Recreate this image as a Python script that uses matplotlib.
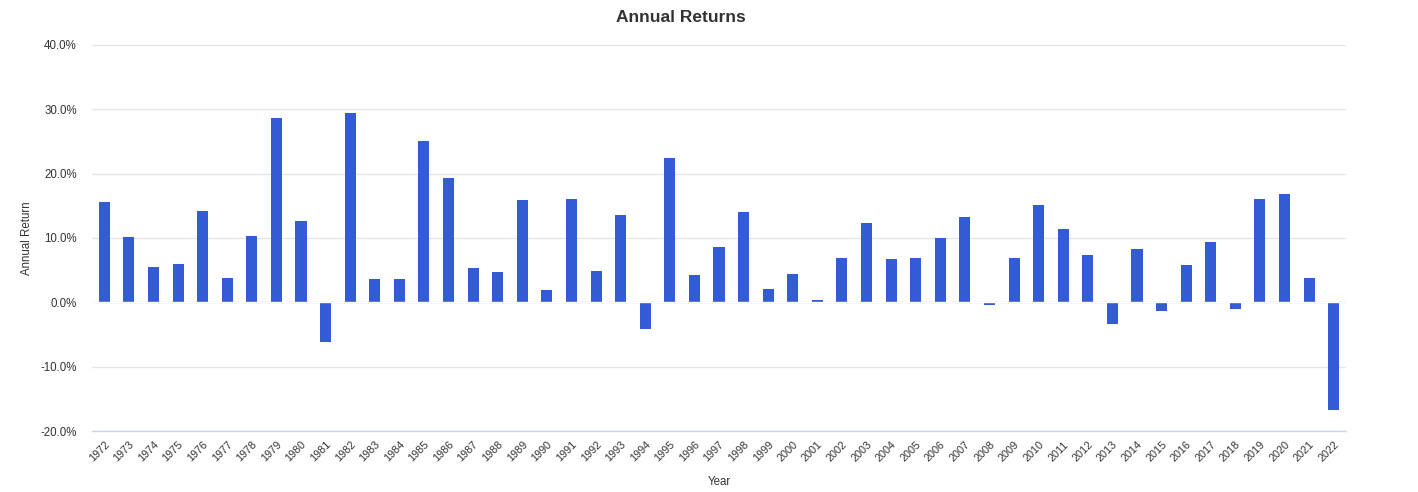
import matplotlib
matplotlib.use("Agg")
import matplotlib.pyplot as plt
from matplotlib.ticker import FuncFormatter

plt.rcParams['font.family'] = ['Liberation Sans', 'DejaVu Sans']

years = [str(y) for y in range(1972, 2023)]
returns = [
    15.6, 10.1, 5.5, 5.9, 14.2, 3.8, 10.3, 28.7, 12.6, -6.1,
    29.4, 3.6, 3.6, 25.0, 19.4, 5.3, 4.7, 15.9, 1.9, 16.0,
    4.9, 13.5, -4.1, 22.4, 4.2, 8.6, 14.0, 2.1, 4.4, 0.4,
    6.9, 12.3, 6.7, 6.9, 10.0, 13.2, -0.4, 6.9, 15.2, 11.4,
    7.3, -3.4, 8.3, -1.3, 5.8, 9.4, -1.0, 16.0, 16.8, 3.8,
    -16.7,
]
y_ticks = [-20, -10, 0, 10, 20, 30, 40]

fig = plt.figure(figsize=(14.18, 4.92), dpi=100)
ax = fig.add_axes([92 / 1418, 1 - 431 / 492, (1346 - 92) / 1418, (431 - 45) / 492])

x = range(len(years))
ax.bar(x, returns, width=0.45, color="#335cd4", zorder=3)
ax.axhline(0, color="white", linewidth=1.0, zorder=4)

ax.set_xlim(-0.5, len(years) - 0.5)
ax.set_ylim(-20, 40)
ax.set_yticks(y_ticks)
ax.yaxis.set_major_formatter(FuncFormatter(lambda v, p: f"{v:.1f}%"))
ax.grid(axis="y", color="#e6e6e6", linewidth=1, zorder=0)
ax.axhline(0, color="#e6e6e6", linewidth=1, zorder=1)

ax.set_xticks(list(x))
ax.set_xticklabels(years, rotation=45, ha="right", rotation_mode="anchor",
                   fontsize=7.8, color="#333333")
ax.tick_params(axis="x", length=0, pad=6)
ax.tick_params(axis="y", length=0, labelsize=8.3, labelcolor="#333333", pad=11)

for side in ["top", "right", "left"]:
    ax.spines[side].set_visible(False)
ax.spines["bottom"].set_color("#ccd6eb")
ax.spines["bottom"].set_linewidth(1)

ax.set_xlabel("Year", fontsize=8.3, color="#333333", labelpad=9)
ax.set_ylabel("Annual Return", fontsize=8.3, color="#333333", labelpad=5)
fig.suptitle("Annual Returns", x=681 / 1418, y=1 - 17 / 492, va="center",
             fontsize=12.5, fontweight="bold", color="#333333")

fig.savefig("out.png", dpi=100, facecolor="white")
